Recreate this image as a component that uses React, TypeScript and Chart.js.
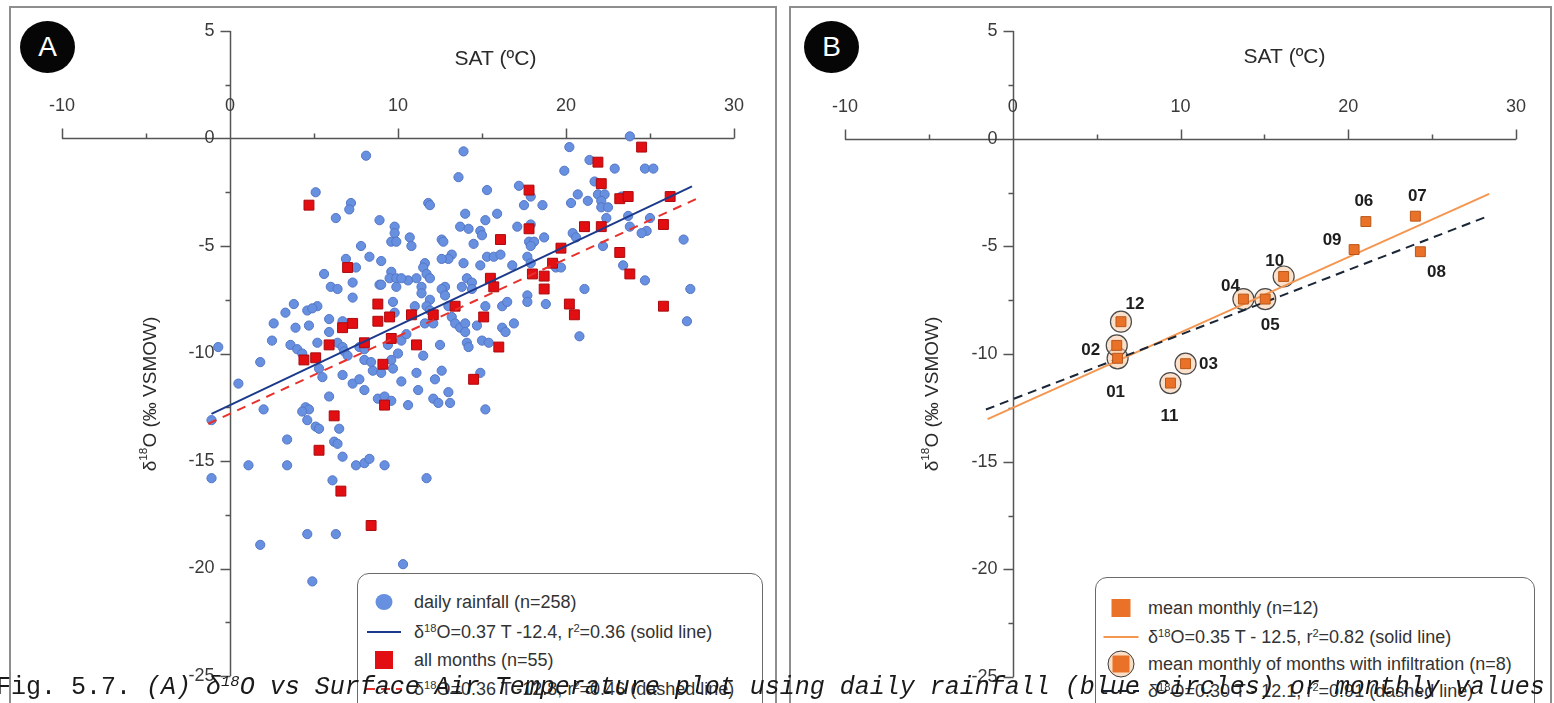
import React, { useEffect, useRef } from "react";
import { Chart, registerables } from "chart.js";

Chart.register(...registerables);

const SANS = "'Liberation Sans', Arial, Helvetica, sans-serif";
const MONO = "'Liberation Mono', 'Courier New', monospace";

// Axis tick values (SAT in °C, δ18O in ‰ VSMOW)
const satTicks = [-10, 0, 10, 20, 30];
const isoTicks = [5, 0, -5, -10, -15, -20, -25];

// (A) daily rainfall samples
const dailySAT = [
  8.1, 13.9, 13.6, 23.8, 20.2, 21.4, 22.9, 24.7, 25.2, 19.9, 21.7, 15.3, 17.2, 17.9, 5.1, 20.7, 21.9, 22.3, 23.3,
  7.2, 7.1, 11.8, 11.9, 17.5, 18.6, 20.3, 21.3, 22.1, 22.1, 22.5, 22.4, 6.3, 8.9, 14.0, 15.9, 15.2, 23.7, 25.0,
  9.8, 13.7, 14.2, 14.9, 15.0, 17.1, 17.9, 18.7, 23.8, 24.8, 24.5, 20.4, 20.6, 27.0, 9.8, 9.6, 9.9, 10.7, 10.8,
  12.6, 12.7, 7.8, 8.3, 6.9, 7.5, 5.6, 7.3, 6.0, 6.4, 8.9, 14.5, 17.8, 18.1, 17.9, 13.2, 13.0, 15.3, 15.7, 11.6,
  11.5, 13.9, 14.9, 16.8, 17.7, 17.9, 19.4, 9.6, 9.5, 9.9, 10.6, 11.1, 11.7, 11.9, 9.0, 14.1, 14.4, 12.8, 13.8,
  11.4, 9.9, 22.2, 19.3, 19.7, 23.4, 24.7, 27.4, 21.1, 10.2, 7.3, 3.8, 3.3, 4.6, 5.2, 4.9, 2.6, 5.9, 6.7, 3.9,
  4.7, 5.9, 2.5, 5.2, 6.4, 6.7, 6.8, 7.0, 7.7, 8.0, 3.6, 4.0, 4.3, -0.7, 1.8, 5.3, 5.5, 6.7, 8.0, 8.4, 7.3, 7.7,
  8.0, 0.5, 5.9, 8.8, 4.5, 4.7, 4.3, 2.0, 4.6, 5.1, 5.3, 6.5, 3.4, -1.1, 11.4, 11.9, 12.6, 12.8, 14.4, 17.7,
  17.7, 18.8, 9.7, 9.8, 11.0, 11.7, 11.9, 13.0, 13.2, 13.4, 13.7, 14.0, 14.0, 15.2, 16.2, 16.5, 14.7, 16.2, 16.4,
  16.9, 11.6, 12.1, 9.4, 10.2, 10.0, 12.5, 14.1, 14.2, 15.0, 15.4, 11.5, 8.5, 9.6, 9.7, 10.2, 11.1, 12.2, 12.6,
  14.9, 11.2, 9.2, 10.6, 12.1, 12.4, 13.0, 13.1, 15.2, 20.8, 9.0, 9.6, 10.5, 6.2, 6.4, 6.7, 7.5, 8.0, 8.3, 9.2,
  1.1, 3.4, -1.1, 6.1, 11.7, 4.6, 6.3, 1.8, 10.3, 4.9, 27.2, 9.0, 12.6, 16.1,
];
const dailyIso = [
  -0.8, -0.6, -1.8, 0.1, -0.4, -1.0, -1.4, -1.4, -1.4, -1.5, -2.0, -2.4, -2.2, -2.7, -2.5, -2.6, -2.6, -2.6, -2.7,
  -3.0, -3.3, -3.0, -3.1, -3.1, -3.1, -3.0, -2.9, -2.9, -3.2, -3.2, -3.7, -3.7, -3.8, -3.5, -3.5, -3.8, -3.6, -3.7,
  -4.1, -4.1, -4.2, -4.3, -4.5, -4.1, -4.0, -4.6, -4.1, -4.3, -4.4, -4.4, -4.6, -4.7, -4.4, -4.8, -4.8, -4.6, -5.0,
  -4.7, -4.8, -5.0, -5.5, -5.6, -6.0, -6.3, -6.7, -6.9, -7.0, -6.8, -4.9, -4.8, -4.8, -5.0, -5.4, -5.6, -5.5, -5.5, -5.8,
  -6.0, -5.8, -5.9, -5.9, -5.5, -5.8, -6.0, -6.2, -6.5, -6.5, -6.6, -6.5, -6.3, -6.5, -6.8, -6.5, -6.7, -6.9, -6.9,
  -6.9, -6.9, -5.0, -5.8, -6.0, -5.9, -6.6, -7.0, -7.0, -6.5, -7.4, -7.7, -8.1, -8.0, -7.8, -7.9, -8.6, -8.4, -8.5, -8.8,
  -8.7, -9.0, -9.4, -9.5, -9.5, -9.7, -9.9, -10.1, -9.7, -9.8, -9.6, -9.8, -10.0, -9.7, -10.4, -10.7, -11.1, -11.0, -10.3, -10.4, -11.4, -11.2,
  -11.7, -11.4, -12.0, -12.1, -12.5, -12.6, -12.7, -12.6, -13.1, -13.4, -13.5, -13.5, -14.0, -13.1, -7.2, -7.5, -7.0, -7.3, -7.0, -7.3,
  -7.6, -7.7, -7.6, -8.1, -7.8, -7.8, -8.0, -7.8, -8.3, -8.6, -8.8, -8.6, -9.0, -7.8, -7.8, -7.6, -8.7, -8.8, -9.0,
  -8.6, -8.6, -8.6, -9.6, -9.4, -10.0, -9.6, -9.5, -9.7, -9.4, -9.5, -10.1, -10.8, -10.3, -10.7, -11.3, -10.9, -11.2, -10.8,
  -10.9, -11.7, -12.0, -12.4, -12.1, -12.3, -11.8, -12.3, -12.6, -9.2, -10.9, -12.2, -9.1, -14.1, -14.2, -14.8, -15.2, -15.1, -14.9, -15.2,
  -15.2, -15.2, -15.8, -15.9, -15.8, -18.4, -18.4, -18.9, -19.8, -20.6, -8.5, -5.7, -5.6, -5.4,
];

// (A) all monthly samples
const monthSAT = [
  4.7, 7.0, 17.8, 17.8, 16.1, 19.2, 15.5, 15.7, 18.0, 18.7, 18.7, 24.5, 21.9, 22.1, 23.2, 23.7, 26.2, 25.8, 21.1,
  22.1, 19.7, 23.2, 23.8, 8.8, 7.3, 6.7, 8.8, 5.9, 4.4, 5.1, 6.2, 12.1, 13.4, 15.1, 9.5, 10.8, 9.6, 11.1, 16.0,
  9.1, 14.5, 9.2, 5.3, 6.6, 8.4, 8.0, 25.8, 20.2, 20.5,
];
const monthIso = [
  -3.1, -6.0, -2.4, -4.2, -4.7, -5.8, -6.5, -6.9, -6.3, -6.4, -7.0, -0.4, -1.1, -2.1, -2.8, -2.7, -2.7, -4.0, -4.1,
  -4.1, -5.1, -5.3, -6.3, -7.7, -8.6, -8.8, -8.5, -9.6, -10.3, -10.2, -12.9, -8.2, -7.8, -8.3, -8.3, -8.2, -9.3, -9.6, -9.7,
  -10.5, -11.2, -12.4, -14.5, -16.4, -18.0, -9.5, -7.8, -7.7, -8.2,
];

// (B) mean monthly values
const monthCodes = ["01", "02", "03", "04", "05", "06", "07", "08", "09", "10", "11", "12"];
const meanSAT = [6.25, 6.2, 10.3, 13.75, 15.05, 21.05, 24.0, 24.3, 20.35, 16.15, 9.4, 6.45];
const meanIso = [-10.2, -9.6, -10.45, -7.45, -7.45, -3.85, -3.6, -5.25, -5.15, -6.4, -11.35, -8.5];
const infiltrationMonths = ["01", "02", "03", "04", "05", "10", "11", "12"];

// Least-squares fits shown in the legends
const fitDaily = { slope: 0.37, intercept: -12.4, r2: 0.36, from: -1.1, to: 27.5 };
const fitAllMonths = { slope: 0.36, intercept: -12.8, r2: 0.46, from: -1.3, to: 27.8 };
const fitMean = { slope: 0.35, intercept: -12.5, r2: 0.82, from: -1.5, to: 28.4 };
const fitInfiltration = { slope: 0.3, intercept: -12.1, r2: 0.91, from: -1.6, to: 28.4 };

// Label placement around each monthly mean (px)
const monthLabelShift: [number, number][] = [
  [-2, 34], [-26, 5], [23, 1], [-13, -13], [5, 26], [-2, -20],
  [2, -20], [16, 21], [-22, -9], [-9, -15], [-1, 33], [14, -17],
];

const BLUE = "rgb(104,144,224)";
const BLUE_EDGE = "rgb(84,118,198)";
const RED = "rgb(226,14,18)";
const RED_EDGE = "rgb(170,10,14)";
const NAVY = "rgb(28,58,140)";
const RED_LINE = "rgb(232,48,44)";
const ORANGE = "rgb(234,114,40)";
const ORANGE_EDGE = "rgb(184,88,26)";
const ORANGE_LINE = "rgb(244,150,80)";
const DARK_DASH = "rgb(26,38,54)";

type Fit = { slope: number; intercept: number; r2: number; from: number; to: number };

const fitLine = (f: Fit) => [
  { x: f.from, y: f.slope * f.from + f.intercept },
  { x: f.to, y: f.slope * f.to + f.intercept },
];

const fitText = (f: Fit, spaced: boolean) =>
  `O=${f.slope.toFixed(2)} T ${spaced ? "- " : "-"}${Math.abs(f.intercept).toFixed(1)}, r`;

type Part = { text: string; sup?: boolean };

function drawRich(ctx: CanvasRenderingContext2D, parts: Part[], x: number, y: number, size: number) {
  const widths = parts.map((p) => {
    ctx.font = `${p.sup ? size * 0.62 : size}px ${SANS}`;
    return ctx.measureText(p.text).width;
  });
  const total = widths.reduce((a, b) => a + b, 0);
  let cx = x - total / 2;
  ctx.textAlign = "left";
  ctx.textBaseline = "middle";
  parts.forEach((p, i) => {
    ctx.font = `${p.sup ? size * 0.62 : size}px ${SANS}`;
    ctx.fillText(p.text, cx, p.sup ? y - size * 0.36 : y);
    cx += widths[i];
  });
}

// Axes crossing at the origin: SAT axis along δ18O = 0 with labels above, δ18O axis along SAT = 0
function crossedAxes(o: { xTitleAt: number; xTitleY: number; yTitleDx: number; yTitleY: number }) {
  return {
    id: "crossedAxes",
    beforeDatasetsDraw(chart: any) {
      const ctx: CanvasRenderingContext2D = chart.ctx;
      const xs = chart.scales.x;
      const ys = chart.scales.y;
      const ox = Math.round(xs.getPixelForValue(0)) + 0.5;
      const oy = Math.round(ys.getPixelForValue(0)) + 0.5;
      const xv: number[] = xs.ticks.map((t: any) => t.value);
      const yv: number[] = ys.ticks.map((t: any) => t.value);
      ctx.save();
      ctx.strokeStyle = "#555";
      ctx.lineWidth = 1.5;
      ctx.beginPath();
      ctx.moveTo(xs.getPixelForValue(xs.min), oy);
      ctx.lineTo(xs.getPixelForValue(xs.max), oy);
      ctx.moveTo(ox, ys.getPixelForValue(ys.max));
      ctx.lineTo(ox, ys.getPixelForValue(ys.min));
      xv.forEach((v) => {
        const px = Math.round(xs.getPixelForValue(v)) + 0.5;
        ctx.moveTo(px, oy);
        ctx.lineTo(px, oy - 10);
      });
      for (let i = 0; i < xv.length - 1; i++) {
        const px = Math.round(xs.getPixelForValue((xv[i] + xv[i + 1]) / 2)) + 0.5;
        ctx.moveTo(px, oy);
        ctx.lineTo(px, oy - 5);
      }
      yv.forEach((v) => {
        const py = Math.round(ys.getPixelForValue(v)) + 0.5;
        ctx.moveTo(ox, py);
        ctx.lineTo(ox - 10, py);
      });
      for (let i = 0; i < yv.length - 1; i++) {
        const py = Math.round(ys.getPixelForValue((yv[i] + yv[i + 1]) / 2)) + 0.5;
        ctx.moveTo(ox, py);
        ctx.lineTo(ox - 5, py);
      }
      ctx.stroke();

      ctx.fillStyle = "#3a3a3a";
      ctx.font = `18px ${SANS}`;
      ctx.textAlign = "center";
      ctx.textBaseline = "middle";
      xs.ticks.forEach((t: any) => ctx.fillText(t.label, xs.getPixelForValue(t.value), oy - 32));
      ctx.textAlign = "right";
      ys.ticks.forEach((t: any) => ctx.fillText(t.label, ox - 16, ys.getPixelForValue(t.value)));

      ctx.fillStyle = "#2a2a2a";
      ctx.font = `21px ${SANS}`;
      ctx.textAlign = "center";
      ctx.fillText("SAT (ºC)", xs.getPixelForValue(o.xTitleAt), o.xTitleY);

      ctx.translate(ox + o.yTitleDx, o.yTitleY);
      ctx.rotate(-Math.PI / 2);
      drawRich(ctx, [{ text: "δ" }, { text: "18", sup: true }, { text: "O (‰ VSMOW)" }], 0, 0, 19);
      ctx.restore();
    },
  };
}

const monthLabels = {
  id: "monthLabels",
  afterDatasetsDraw(chart: any) {
    const ctx: CanvasRenderingContext2D = chart.ctx;
    const meta = chart.getDatasetMeta(0);
    ctx.save();
    ctx.fillStyle = "#1e1e1e";
    ctx.font = `bold 17px ${SANS}`;
    ctx.textAlign = "center";
    ctx.textBaseline = "middle";
    meta.data.forEach((el: any, i: number) => {
      const [dx, dy] = monthLabelShift[i];
      ctx.fillText(monthCodes[i], el.x + dx, el.y + dy);
    });
    ctx.restore();
  },
};

function baseOptions(padding: { left: number; right: number; top: number; bottom: number }) {
  return {
    responsive: false,
    animation: false as const,
    devicePixelRatio: 1,
    events: [] as any[],
    layout: { padding },
    plugins: { legend: { display: false }, tooltip: { enabled: false } },
    scales: {
      x: {
        type: "linear" as const,
        min: -10,
        max: 30,
        display: false,
        afterBuildTicks: (s: any) => {
          s.ticks = satTicks.map((value) => ({ value }));
        },
        ticks: { callback: (v: any) => String(v) },
      },
      y: {
        type: "linear" as const,
        min: -25,
        max: 5,
        display: false,
        afterBuildTicks: (s: any) => {
          s.ticks = isoTicks.map((value) => ({ value }));
        },
        ticks: { callback: (v: any) => String(v) },
      },
    },
  };
}

const Sup = ({ children }: { children: React.ReactNode }) => (
  <span style={{ fontSize: "0.62em", position: "relative", top: "-0.5em" }}>{children}</span>
);

type LegendRow = { y: number; icon: React.ReactNode; text: React.ReactNode };

function LegendBox(props: { left: number; top: number; width: number; iconX: number; textX: number; rows: LegendRow[] }) {
  const { left, top, width, iconX, textX, rows } = props;
  return (
    <div
      style={{
        position: "absolute",
        left,
        top,
        width,
        height: 170,
        boxSizing: "border-box",
        border: "1.5px solid #6a6a6a",
        borderRadius: 12,
        background: "#fff",
      }}
    >
      {rows.map((r, i) => (
        <React.Fragment key={i}>
          <div style={{ position: "absolute", left: iconX - left, top: r.y - top, transform: "translate(-50%, -50%)" }}>
            {r.icon}
          </div>
          <div
            style={{
              position: "absolute",
              left: textX - left,
              top: r.y - top - 11,
              height: 22,
              lineHeight: "22px",
              fontSize: 18,
              color: "#333",
              whiteSpace: "nowrap",
            }}
          >
            {r.text}
          </div>
        </React.Fragment>
      ))}
    </div>
  );
}

const dashIcon = (color: string) => (
  <div
    style={{
      width: 36,
      height: 2,
      background: `repeating-linear-gradient(90deg, ${color} 0 9px, transparent 9px 15px)`,
    }}
  />
);

const badge = (left: number, letter: string) => (
  <div
    style={{
      position: "absolute",
      left,
      top: 21,
      width: 55,
      height: 52,
      borderRadius: "50%",
      background: "#060606",
      color: "#fff",
      fontFamily: SANS,
      fontSize: 28,
      lineHeight: "52px",
      textAlign: "center",
    }}
  >
    {letter}
  </div>
);

export default function App() {
  const refA = useRef<HTMLCanvasElement>(null);
  const refB = useRef<HTMLCanvasElement>(null);

  useEffect(() => {
    const chartA = new Chart(refA.current as HTMLCanvasElement, {
      type: "scatter",
      data: {
        datasets: [
          {
            data: fitLine(fitDaily),
            showLine: true,
            borderColor: NAVY,
            borderWidth: 2,
            pointRadius: 0,
            order: 0,
          },
          {
            data: fitLine(fitAllMonths),
            showLine: true,
            borderColor: RED_LINE,
            borderWidth: 2,
            borderDash: [9, 7],
            pointRadius: 0,
            order: 1,
          },
          {
            data: monthSAT.map((x, i) => ({ x, y: monthIso[i] })),
            pointStyle: "rect",
            pointRadius: 7,
            backgroundColor: RED,
            borderColor: RED_EDGE,
            borderWidth: 1,
            order: 2,
          },
          {
            data: dailySAT.map((x, i) => ({ x, y: dailyIso[i] })),
            pointStyle: "circle",
            pointRadius: 4.6,
            backgroundColor: BLUE,
            borderColor: BLUE_EDGE,
            borderWidth: 1,
            order: 3,
          },
        ],
      } as any,
      options: baseOptions({ left: 62, right: 43, top: 31, bottom: 27 }) as any,
      plugins: [crossedAxes({ xTitleAt: 15.8, xTitleY: 59, yTitleDx: -80, yTitleY: 394 })],
    });

    const infil = monthCodes
      .map((m, i) => ({ m, x: meanSAT[i], y: meanIso[i] }))
      .filter((p) => infiltrationMonths.includes(p.m))
      .map(({ x, y }) => ({ x, y }));

    const chartB = new Chart(refB.current as HTMLCanvasElement, {
      type: "scatter",
      data: {
        datasets: [
          {
            data: meanSAT.map((x, i) => ({ x, y: meanIso[i] })),
            pointStyle: "rect",
            pointRadius: 7,
            backgroundColor: ORANGE,
            borderColor: ORANGE_EDGE,
            borderWidth: 1,
            order: 0,
          },
          {
            data: fitLine(fitInfiltration),
            showLine: true,
            borderColor: DARK_DASH,
            borderWidth: 2,
            borderDash: [9, 6],
            pointRadius: 0,
            order: 1,
          },
          {
            data: fitLine(fitMean),
            showLine: true,
            borderColor: ORANGE_LINE,
            borderWidth: 2,
            pointRadius: 0,
            order: 2,
          },
          {
            data: infil,
            pointStyle: "circle",
            pointRadius: 10.5,
            backgroundColor: "rgba(248,200,160,0.55)",
            borderColor: "#4a4a4a",
            borderWidth: 1.2,
            order: 3,
          },
        ],
      } as any,
      options: baseOptions({ left: 68, right: 38, top: 31, bottom: 26 }) as any,
      plugins: [crossedAxes({ xTitleAt: 16.2, xTitleY: 57, yTitleDx: -81, yTitleY: 394 }), monthLabels],
    });

    return () => {
      chartA.destroy();
      chartB.destroy();
    };
  }, []);

  const frame = (left: number, width: number) => (
    <div
      style={{
        position: "absolute",
        left,
        top: 6,
        width,
        height: 760,
        boxSizing: "border-box",
        border: "2px solid #8e8e8e",
      }}
    />
  );

  return (
    <div
      style={{
        position: "absolute",
        left: 0,
        top: 0,
        width: 1554,
        height: 703,
        overflow: "hidden",
        background: "#fff",
        fontFamily: SANS,
      }}
    >
      {frame(9, 768)}
      {frame(789, 763)}
      <canvas ref={refA} width={777} height={703} style={{ position: "absolute", left: 0, top: 0, width: 777, height: 703 }} />
      <canvas ref={refB} width={777} height={703} style={{ position: "absolute", left: 777, top: 0, width: 777, height: 703 }} />
      {badge(20, "A")}
      {badge(804, "B")}

      <LegendBox
        left={357}
        top={573}
        width={406}
        iconX={383}
        textX={413}
        rows={[
          { y: 601, icon: <div style={{ width: 17, height: 16, borderRadius: "50%", background: BLUE }} />, text: "daily rainfall (n=258)" },
          {
            y: 631,
            icon: <div style={{ width: 34, height: 2, background: NAVY }} />,
            text: (
              <>
                δ<Sup>18</Sup>
                {fitText(fitDaily, false)}
                <Sup>2</Sup>={fitDaily.r2.toFixed(2)} (solid line)
              </>
            ),
          },
          { y: 659, icon: <div style={{ width: 18, height: 18, background: RED }} />, text: "all months (n=55)" },
          {
            y: 688,
            icon: dashIcon(RED_LINE),
            text: (
              <>
                δ<Sup>18</Sup>
                {fitText(fitAllMonths, false)}
                <Sup>2</Sup>={fitAllMonths.r2.toFixed(2)} (dashed line)
              </>
            ),
          },
        ]}
      />

      <LegendBox
        left={1095}
        top={577}
        width={440}
        iconX={1120}
        textX={1147}
        rows={[
          { y: 607, icon: <div style={{ width: 19, height: 18, background: ORANGE }} />, text: "mean monthly (n=12)" },
          {
            y: 636,
            icon: <div style={{ width: 35, height: 2, background: ORANGE_LINE }} />,
            text: (
              <>
                δ<Sup>18</Sup>
                {fitText(fitMean, true)}
                <Sup>2</Sup>={fitMean.r2.toFixed(2)} (solid line)
              </>
            ),
          },
          {
            y: 663,
            icon: (
              <div
                style={{
                  width: 27,
                  height: 27,
                  boxSizing: "border-box",
                  borderRadius: "50%",
                  border: "1.5px solid #3c3c3c",
                  background: "rgba(248,200,160,0.6)",
                  display: "flex",
                  alignItems: "center",
                  justifyContent: "center",
                }}
              >
                <div style={{ width: 17, height: 17, background: ORANGE }} />
              </div>
            ),
            text: "mean monthly of months with infiltration (n=8)",
          },
          {
            y: 690,
            icon: dashIcon(DARK_DASH),
            text: (
              <>
                δ<Sup>18</Sup>
                {fitText(fitInfiltration, true)}
                <Sup>2</Sup>={fitInfiltration.r2.toFixed(2)} (dashed line)
              </>
            ),
          },
        ]}
      />

      <div
        style={{
          position: "absolute",
          left: -4,
          top: 675,
          whiteSpace: "nowrap",
          fontFamily: MONO,
          fontSize: 25,
          lineHeight: "26px",
          color: "#1a1a1a",
        }}
      >
        Fig. 5.7. <i>(A) δ<Sup>18</Sup>O vs Surface Air Temperature plot using daily rainfall (blue circles) or monthly values</i>
      </div>
    </div>
  );
}
